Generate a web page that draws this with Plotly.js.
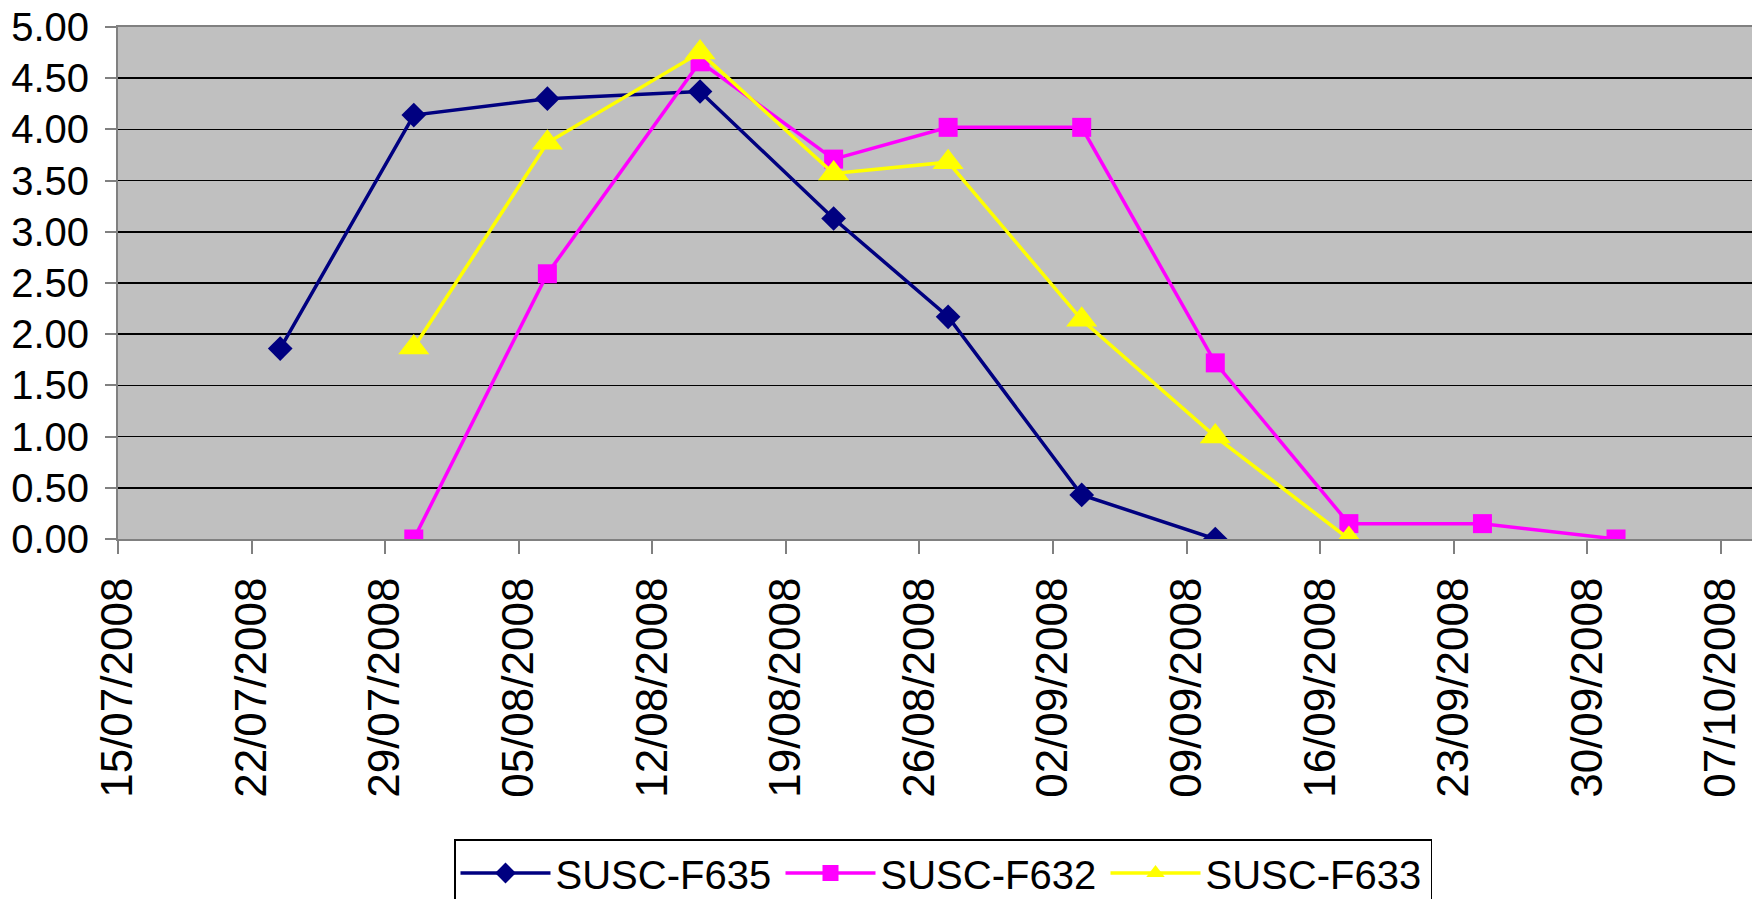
<!DOCTYPE html>
<html>
<head>
<meta charset="utf-8">
<script src="https://cdn.plot.ly/plotly-3.0.1.min.js"></script>
<style>html,body{margin:0;padding:0;background:#fff;}#chart{width:1752px;height:899px;}</style>
</head>
<body>
<div id="chart"></div>
<script>
// Data
var dates635 = ['2008-07-23','2008-07-30','2008-08-06','2008-08-14','2008-08-21','2008-08-27','2008-09-03','2008-09-10'];
var values635 = [1.86, 4.14, 4.30, 4.37, 3.13, 2.17, 0.43, 0.00];

var dates632 = ['2008-07-30','2008-08-06','2008-08-14','2008-08-21','2008-08-27','2008-09-03','2008-09-10','2008-09-17','2008-09-24','2008-10-01'];
var values632 = [0.00, 2.59, 4.66, 3.71, 4.02, 4.02, 1.72, 0.15, 0.15, 0.00];

var dates633 = ['2008-07-30','2008-08-06','2008-08-14','2008-08-21','2008-08-27','2008-09-03','2008-09-10','2008-09-17'];
var values633 = [1.87, 3.87, 4.75, 3.57, 3.68, 2.14, 1.00, 0.00];

var seriesNames = ['SUSC-F635', 'SUSC-F632', 'SUSC-F633'];

var FONT = 'Liberation Sans, Arial, sans-serif';
var DAY = 86400000;

var traces = [
  {x: dates635, y: values635, name: seriesNames[0], type: 'scatter', mode: 'lines+markers',
   xperiod: DAY, xperiodalignment: 'middle',
   line: {color: '#000080', width: 3.5},
   marker: {symbol: 'diamond', size: 19, color: '#000080'}},
  {x: dates632, y: values632, name: seriesNames[1], type: 'scatter', mode: 'lines+markers',
   xperiod: DAY, xperiodalignment: 'middle',
   line: {color: '#FF00FF', width: 3.5},
   marker: {symbol: 'square', size: 19, color: '#FF00FF'}},
  {x: dates633, y: values633, name: seriesNames[2], type: 'scatter', mode: 'lines+markers',
   xperiod: DAY, xperiodalignment: 'middle',
   line: {color: '#FFFF00', width: 3.5},
   marker: {symbol: 'triangle-up', size: 27, color: '#FFFF00'}}
];

var layout = {
  width: 1752, height: 899,
  margin: {l: 118, r: 0, t: 27, b: 360, pad: 0, autoexpand: false},
  paper_bgcolor: '#ffffff',
  plot_bgcolor: '#C0C0C0',
  font: {family: FONT, color: '#000000', size: 40},
  showlegend: true,
  xaxis: {
    type: 'date',
    range: ['2008-07-15', '2008-10-08 15:00'],
    tick0: '2008-07-15', dtick: 7 * DAY,
    tickformat: '%d/%m/%Y',
    tickangle: -90,
    tickfont: {family: FONT, size: 44, color: '#000'},
    ticks: 'outside', ticklen: 13, tickwidth: 2, tickcolor: '#808080',
    showgrid: false, zeroline: false,
    showline: true, linecolor: '#808080', linewidth: 2, mirror: true,
    ticklabelstandoff: 6
  },
  yaxis: {
    range: [0, 5],
    tick0: 0, dtick: 0.5,
    tickformat: '.2f',
    tickfont: {family: FONT, size: 40, color: '#000'},
    ticks: 'outside', ticklen: 11, tickwidth: 2, tickcolor: '#808080',
    showgrid: true, gridcolor: '#000000', gridwidth: 1.5,
    zeroline: false,
    showline: true, linecolor: '#808080', linewidth: 2,
    ticklabelstandoff: 8
  },
  legend: {
    orientation: 'h',
    x: (454 - 118) / 1634, xanchor: 'left',
    y: (539 - 839) / 512, yanchor: 'top',
    bgcolor: '#ffffff', bordercolor: '#000000', borderwidth: 1.5,
    font: {family: FONT, size: 40, color: '#000'},
    entrywidth: 220, entrywidthmode: 'pixels',
    itemwidth: 90,
    traceorder: 'normal'
  }
};

Plotly.newPlot('chart', traces, layout, {staticPlot: true, displayModeBar: false});
</script>
</body>
</html>
